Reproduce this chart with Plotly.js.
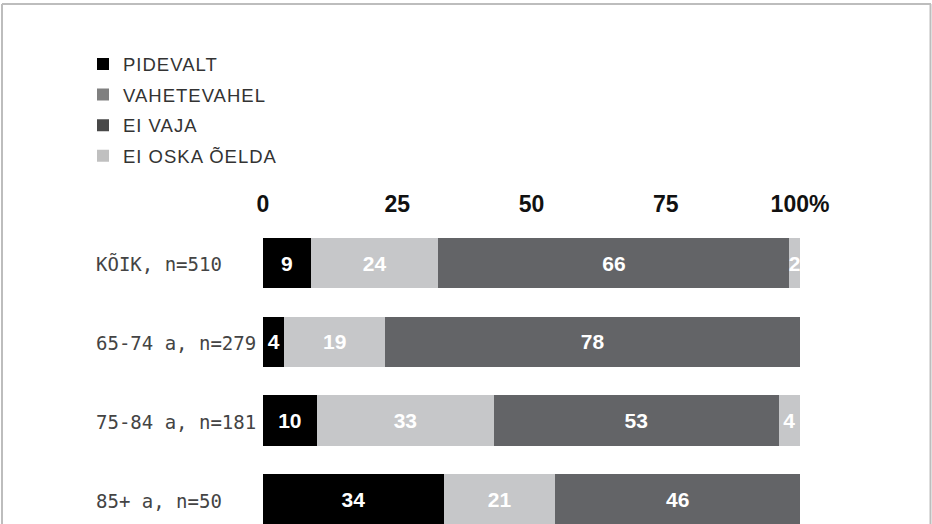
<!DOCTYPE html>
<html>
<head>
<meta charset="utf-8">
<script src="https://cdn.plot.ly/plotly-3.0.1.min.js"></script>
<style>
  html, body { margin: 0; padding: 0; background: #fff; }
  #chart { width: 932px; height: 524px; }
  .legendtext { letter-spacing: 1.0px; }
</style>
</head>
<body>
<div id="chart"></div>
<script>
// ---- data ----
const categories = ['KÕIK, n=510', '65-74 a, n=279', '75-84 a, n=181', '85+ a, n=50'];
const seriesNames = ['PIDEVALT', 'VAHETEVAHEL', 'EI VAJA', 'EI OSKA ÕELDA'];
const pidevalt    = [9, 4, 10, 34];
const vahetevahel = [24, 19, 33, 21];
const eiVaja      = [66, 78, 53, 46];
const eiOska      = [2, null, 4, null];
const tickValues  = [0, 25, 50, 75, 100];
const tickLabels  = ['0', '25', '50', '75', '100%'];

// ---- styles ----
const barColors    = ['#000000', '#c6c7c9', '#636467', '#c6c7c9'];
const legendColors = ['#000000', '#808080', '#484848', '#c0c0c0'];
const W = 932, H = 524;
const M = { l: 263, r: 132, t: 218, b: 0, autoexpand: false };
const PW = W - M.l - M.r, PH = H - M.t - M.b;
const boldFont = '"Liberation Sans", Arial, sans-serif';

const values = [pidevalt, vahetevahel, eiVaja, eiOska];
const traces = [];
values.forEach((vals, i) => {
  traces.push({
    type: 'bar', orientation: 'h',
    name: seriesNames[i],
    y: categories, x: vals,
    text: vals.map(v => (v == null ? '' : String(v))),
    textposition: 'inside', insidetextanchor: 'middle',
    constraintext: 'none', textangle: 0,
    textfont: { family: boldFont, size: 21, color: '#ffffff', weight: 'bold' },
    marker: { color: barColors[i], line: { width: 0 } },
    showlegend: false, hoverinfo: 'skip'
  });
});
// legend-only entries (legend colours differ from bar fills in the original)
seriesNames.forEach((n, i) => {
  traces.push({
    type: 'bar', orientation: 'h', name: n,
    x: [null], y: [categories[0]],
    marker: { color: legendColors[i] },
    legendgroup: 'g' + i, showlegend: true, hoverinfo: 'skip'
  });
});

const px2x = px => (px - M.l) / PW;
const px2y = py => (H - M.b - py) / PH;

const annotations = categories.map(c => ({
  text: c, x: px2x(94), xref: 'paper', xanchor: 'left', align: 'left',
  y: c, yref: 'y', yanchor: 'middle', yshift: -1, showarrow: false,
  font: { family: '"DejaVu Sans Mono", monospace', size: 19, color: '#444444' }
}));

const frame = { color: '#bdbdbd', width: 2 };
const shapes = [
  { type: 'line', xref: 'paper', yref: 'paper', x0: px2x(2), x1: px2x(931), y0: px2y(4), y1: px2y(4), line: frame },
  { type: 'line', xref: 'paper', yref: 'paper', x0: px2x(2), x1: px2x(2), y0: px2y(4), y1: px2y(530), line: frame },
  { type: 'line', xref: 'paper', yref: 'paper', x0: px2x(930.5), x1: px2x(930.5), y0: px2y(4), y1: px2y(530), line: frame }
];

const layout = {
  width: W, height: H,
  margin: M,
  paper_bgcolor: '#ffffff', plot_bgcolor: '#ffffff',
  barmode: 'stack', barnorm: 'percent', bargap: 0.357,
  showlegend: true,
  legend: {
    xref: 'container', yref: 'container',
    x: 83 / W, y: 1 - 45.5 / H, xanchor: 'left', yanchor: 'top',
    traceorder: 'grouped', tracegroupgap: 3.5,
    font: { family: '"Liberation Sans", Arial, sans-serif', size: 18.5, color: '#333333' },
    bgcolor: 'rgba(0,0,0,0)'
  },
  xaxis: {
    side: 'top', range: [0, 100], tickvals: tickValues, ticktext: tickLabels,
    showgrid: false, zeroline: false, showline: false, ticks: '',
    tickfont: { family: boldFont, size: 23, color: '#111111', weight: 'bold' },
    fixedrange: true
  },
  yaxis: {
    type: 'category', categoryorder: 'array', categoryarray: categories,
    range: [(H - 263) / 78.9, (M.t - 263) / 78.9],
    showticklabels: false, showgrid: false, zeroline: false, showline: false, ticks: '',
    fixedrange: true
  },
  annotations: annotations,
  shapes: shapes,
  font: { family: '"Liberation Sans", Arial, sans-serif' }
};

Plotly.newPlot('chart', traces, layout, { displayModeBar: false, staticPlot: true });
</script>
</body>
</html>
